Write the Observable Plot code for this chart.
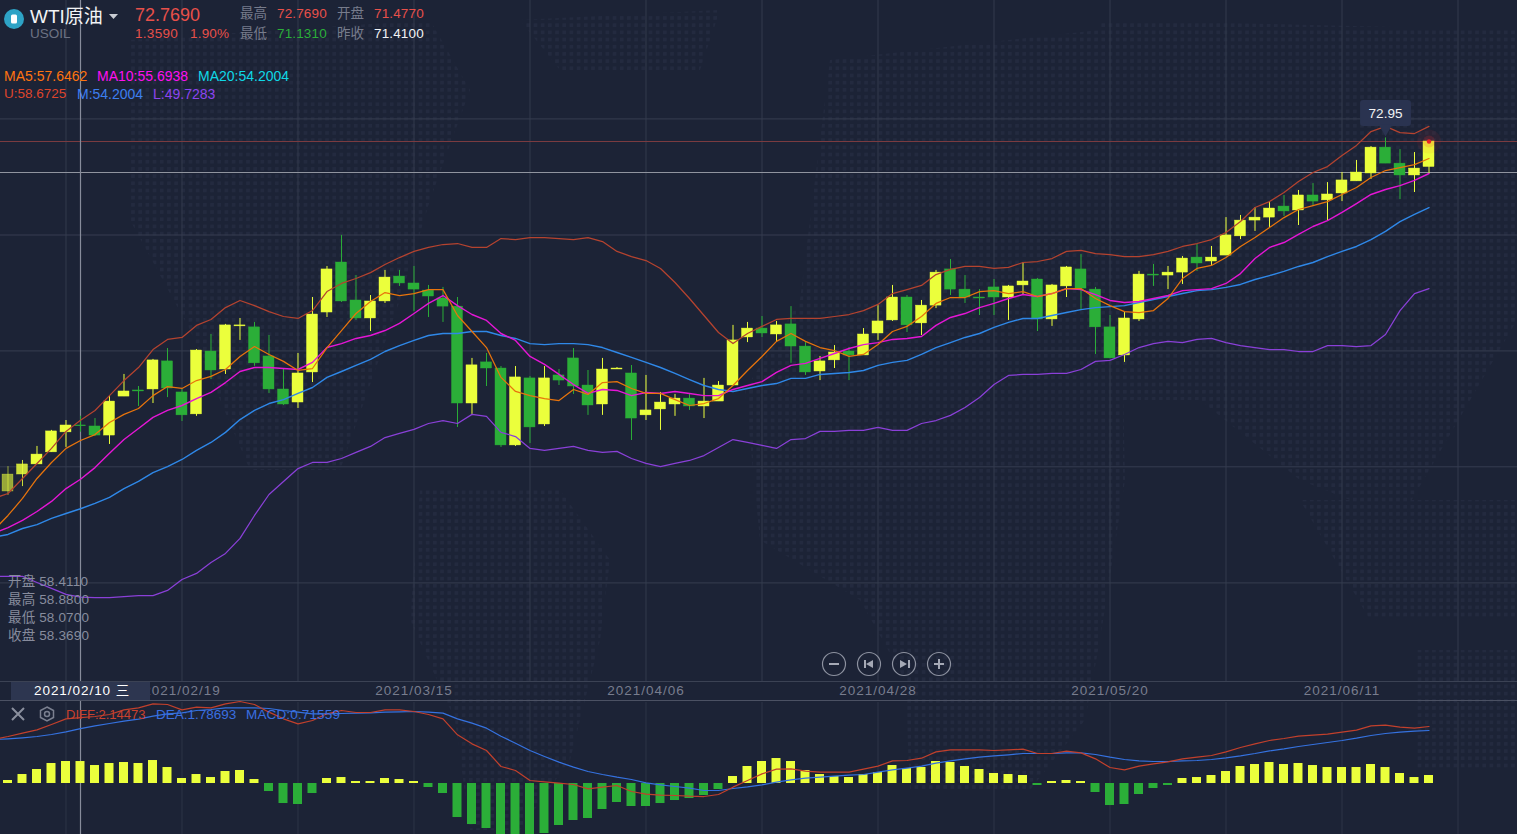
<!DOCTYPE html>
<html><head><meta charset="utf-8">
<script src="https://cdn.jsdelivr.net/npm/d3@7"></script>
<script src="https://cdn.jsdelivr.net/npm/@observablehq/plot@0.6"></script>
<style>
html,body{margin:0;padding:0;background:#1c2336;overflow:hidden;width:1517px;height:834px}
body{font-family:"Liberation Sans","Noto Sans CJK SC",sans-serif;position:relative}
#dots{position:absolute;left:0;top:0;width:1517px;height:834px;
 background-image:radial-gradient(circle at center,#232a3f 1.9px,rgba(0,0,0,0) 2.3px);background-size:7.2px 7.2px;
 clip-path:path("M130 40L430 20L470 90L430 200L400 300L340 470L250 470L190 330L130 220ZM520 20L720 10L700 70L560 70ZM420 490L560 490L610 560L600 640L570 760L520 830L470 830L455 720L410 620ZM830 60L1100 30L1120 250L1125 480L1100 640L1085 720L1030 790L910 790L905 680L860 600L760 540L745 390L800 300ZM1100 20L1517 30L1517 320L1400 520L1300 480L1200 400L1120 400ZM1417 650L1517 650L1517 770L1417 770ZM1300 500L1517 500L1517 620L1370 620Z")}
#main,#macd{position:absolute;left:0}
#main{top:0}#macd{top:700px}
.t{position:absolute;white-space:nowrap;font-size:13.5px;line-height:16px}
.s{letter-spacing:.15px}
.hl{position:absolute;left:0;width:1517px;height:1px;background:#3b4254}
</style></head><body>
<div id="dots"></div>
<div id="main"></div>
<div id="macd"></div>
<div class="hl" style="top:681px"></div>
<div class="hl" style="top:700px;background:#4b5163"></div>
<div style="position:absolute;left:11px;top:682px;width:139px;height:18px;background:#2d3650"></div>
<div class="t" style="left:34px;top:683px;color:#fff;letter-spacing:.95px">2021/02/10 三</div>

<svg style="position:absolute;left:3px;top:8px" width="22" height="22"><circle cx="11" cy="11" r="10" fill="#2ea3c6"/><rect x="8" y="6.5" width="6" height="9" rx="1.5" fill="#fff"/></svg>
<div class="t" style="left:30px;top:5px;font-size:19px;line-height:24px;color:#f2f3f5">WTI原油</div>
<svg style="position:absolute;left:109px;top:14px" width="10" height="6"><path d="M0 0H9L4.500 5Z" fill="#c9ccd3"/></svg>
<div class="t" style="left:30px;top:26px;color:#6d7283">USOIL</div>
<div class="t" style="left:135px;top:5px;font-size:18px;line-height:20px;color:#e8504a">72.7690</div>
<div class="t" style="left:135px;top:26px;color:#e8504a;letter-spacing:.3px">1.3590</div>
<div class="t" style="left:190px;top:26px;color:#e8504a;letter-spacing:.2px">1.90%</div>
<div class="t" style="left:240px;top:6px;color:#777c8c">最高</div>
<div class="t s" style="left:277px;top:6px;color:#e8504a">72.7690</div>
<div class="t" style="left:337px;top:6px;color:#777c8c">开盘</div>
<div class="t s" style="left:374px;top:6px;color:#e8504a">71.4770</div>
<div class="t" style="left:240px;top:26px;color:#777c8c">最低</div>
<div class="t s" style="left:277px;top:26px;color:#2bae3a">71.1310</div>
<div class="t" style="left:337px;top:26px;color:#777c8c">昨收</div>
<div class="t s" style="left:374px;top:26px;color:#f2f3f5">71.4100</div>
<div class="t" style="left:4px;top:68px;font-size:14px;color:#ff7410">MA5:57.6462</div>
<div class="t" style="left:97px;top:68px;font-size:14px;color:#ff10f0">MA10:55.6938</div>
<div class="t" style="left:198px;top:68px;font-size:14px;color:#0fd8e6">MA20:54.2004</div>
<div class="t" style="left:4px;top:86px;color:#df452c">U:58.6725</div>
<div class="t" style="left:77px;top:86px;font-size:14px;color:#3d7ff0">M:54.2004</div>
<div class="t" style="left:153px;top:86px;font-size:14px;color:#8d45f0">L:49.7283</div>
<div class="t s" style="left:8px;top:574px;color:#878c9d">开盘 58.4110</div>
<div class="t s" style="left:8px;top:592px;color:#878c9d">最高 58.8800</div>
<div class="t s" style="left:8px;top:610px;color:#878c9d">最低 58.0700</div>
<div class="t s" style="left:8px;top:628px;color:#878c9d">收盘 58.3690</div>
<div class="t" style="left:66px;top:707px;font-size:13px;color:#c8412e">DIFF:2.14473</div>
<div class="t" style="left:156px;top:707px;color:#3a6fe0">DEA:1.78693</div>
<div class="t s" style="left:246px;top:707px;color:#3a6fe0">MACD:0.71559</div>
<svg style="position:absolute;left:0;top:650px" width="1000" height="80" fill="none" stroke="#8d92a0">
 <g stroke-width="1.2">
 <circle cx="834" cy="14" r="11.500"/><circle cx="869" cy="14" r="11.500"/><circle cx="904" cy="14" r="11.500"/><circle cx="939" cy="14" r="11.500"/></g>
 <path d="M829 14H839M934 14H944M939 9V19" stroke-width="2" stroke="#a5a9b5"/>
 <path d="M865 10V18M909 10V18" stroke-width="2" stroke="#a5a9b5"/>
 <path d="M873 10V18L866 14ZM900 10V18L907 14Z" fill="#a5a9b5" stroke="none"/>
 <path d="M12 58L24 70M24 58L12 70" stroke-width="2" stroke="#8a8f9d"/>
 <path d="M47 57L53.500 60.500V67.500L47 71L40.500 67.500V60.500Z" stroke-width="1.500" stroke="#7b8090"/><circle cx="47" cy="64" r="2.500" stroke-width="1.500" stroke="#7b8090"/>
</svg>

<script>
// Price candles (index 0 = first visible session)
const opens=[55.07,55.93,56.44,57.05,58.06,58.411,58.36,57.90,59.87,60.18,60.23,61.65,60.08,58.97,62.15,61.24,63.42,63.37,61.90,60.23,59.57,61.09,64.12,66.65,64.73,63.82,64.68,65.94,65.59,65.23,64.83,64.42,59.52,61.60,61.29,57.40,60.79,58.46,60.94,61.80,60.43,59.47,61.24,61.04,58.92,59.22,59.47,59.77,59.37,59.62,60.43,62.86,63.31,63.01,63.52,62.40,61.14,61.70,62.15,61.95,63.06,63.72,64.88,63.57,64.47,66.30,65.28,64.88,65.39,64.88,65.49,65.79,63.77,65.44,66.30,65.28,63.37,61.95,63.77,66.04,65.99,66.14,66.90,66.70,67.00,67.97,68.77,68.92,69.48,69.28,70.04,69.79,70.14,70.75,71.15,72.46,71.65,71.05,71.477];
const closes=[55.93,56.44,56.94,58.11,58.41,58.369,57.90,59.62,60.13,60.13,61.70,60.28,58.92,62.20,61.19,63.47,63.47,61.55,60.23,59.47,61.04,64.02,66.30,64.68,63.82,64.68,65.89,65.59,65.28,64.93,64.42,59.52,61.45,61.29,57.40,60.84,58.31,60.79,60.68,60.38,59.42,61.24,61.29,58.76,59.17,59.57,59.77,59.37,59.62,60.43,62.71,63.31,63.06,63.47,62.40,61.09,61.65,62.10,61.95,63.01,63.67,64.88,63.47,64.47,66.14,65.28,64.88,64.83,64.88,65.44,65.69,63.77,65.49,66.40,65.33,63.37,61.80,63.82,66.04,65.99,66.14,66.85,66.60,66.90,68.02,68.77,68.92,69.38,69.23,70.04,69.73,70.09,70.80,71.20,72.46,71.65,71.05,71.40,72.769];
const highs=[56.33,56.64,57.35,58.16,58.66,58.88,58.76,59.87,60.99,60.38,61.75,62.30,60.23,62.25,63.01,63.52,63.82,63.62,62.96,61.24,62.05,64.88,66.45,68.02,65.99,64.98,66.25,66.25,66.45,65.49,65.39,64.88,61.80,62.05,61.39,61.39,60.89,61.39,61.24,62.30,61.19,61.80,61.34,61.44,60.94,60.08,59.98,59.98,60.79,60.63,63.47,63.62,63.92,63.67,64.42,62.60,61.90,62.45,62.35,63.31,64.47,65.49,64.98,64.73,66.25,66.80,65.99,65.28,65.79,65.49,66.65,65.84,65.54,66.45,67.05,65.39,63.97,64.12,66.20,66.55,66.45,66.95,67.56,67.46,68.92,69.03,69.43,69.73,70.04,70.29,70.64,70.69,71.20,71.81,72.51,72.95,72.36,72.21,72.769];
const lows=[54.87,55.32,56.44,57.05,57.30,58.07,57.85,57.45,59.87,59.37,59.52,59.82,58.61,58.87,60.73,60.99,62.71,61.40,60.03,59.42,59.27,60.58,63.87,64.63,63.72,63.16,64.58,65.44,64.17,63.87,63.62,58.31,58.97,60.38,57.30,57.35,57.50,58.36,60.43,59.98,58.92,58.92,61.24,57.65,58.66,58.16,58.87,59.17,58.76,59.62,60.43,62.60,62.86,62.66,61.55,60.94,60.68,61.29,60.68,61.95,62.71,63.67,63.11,62.96,64.32,64.98,64.58,63.97,63.97,63.72,65.03,63.16,63.42,64.88,64.22,62.00,61.80,61.60,63.67,65.44,65.28,65.54,66.20,66.45,67.00,67.81,68.22,68.42,68.98,68.52,69.53,68.77,69.73,70.75,70.85,71.65,69.83,70.19,71.131];

// Indicator lines; each starts one session before the first visible candle
const ma5=[53.10,53.86,54.72,55.73,56.54,57.25,57.65,57.95,58.56,58.97,59.27,59.92,60.38,60.28,60.68,60.89,61.24,61.90,62.40,62.00,61.65,61.19,61.29,62.35,63.21,64.07,64.68,65.13,64.98,65.08,65.28,65.28,63.97,63.16,62.35,60.84,60.13,59.92,59.77,59.67,60.23,59.98,60.58,60.63,60.28,60.03,60.03,59.72,59.42,59.52,59.77,60.43,61.19,61.90,62.66,63.06,62.66,62.35,62.20,61.90,62.00,62.50,63.16,63.42,63.92,64.58,64.88,64.88,65.18,65.23,65.08,65.18,64.93,65.08,65.33,65.33,64.83,64.47,64.17,64.12,64.22,64.83,65.84,66.35,66.50,66.90,67.46,67.91,68.42,68.92,69.33,69.53,69.73,70.09,70.44,70.95,71.30,71.45,71.60,71.91];
const ma10=[52.95,53.25,53.61,54.06,54.57,55.22,55.69,56.28,57.00,57.70,58.26,58.82,59.17,59.42,59.77,60.08,60.58,61.14,61.34,61.34,61.29,61.24,61.60,62.35,62.55,62.81,62.96,63.21,63.57,64.07,64.58,64.98,64.47,64.02,63.72,63.06,62.71,61.90,61.50,60.99,60.48,60.03,60.23,60.18,59.92,60.08,60.03,60.13,60.03,59.92,59.92,60.23,60.43,60.63,61.09,61.45,61.55,61.80,62.05,62.30,62.50,62.60,62.76,62.81,62.91,63.47,63.87,64.07,64.37,64.58,64.83,65.03,64.93,65.08,65.33,65.28,65.03,64.73,64.63,64.68,64.83,64.98,65.23,65.28,65.33,65.59,66.09,66.85,67.41,67.66,68.07,68.47,68.77,69.18,69.63,70.09,70.34,70.54,70.80,71.15];
const ma20=[52.75,52.90,53.20,53.40,53.71,53.96,54.20,54.47,54.77,55.22,55.58,56.03,56.33,56.69,57.15,57.55,58.06,58.71,59.17,59.52,59.72,60.03,60.33,60.84,61.14,61.45,61.75,62.15,62.45,62.71,62.96,63.06,63.06,63.16,63.16,62.96,62.81,62.55,62.50,62.55,62.55,62.50,62.35,62.10,61.85,61.60,61.34,61.04,60.73,60.43,60.23,60.13,60.28,60.43,60.53,60.79,60.79,60.99,61.04,61.09,61.19,61.45,61.60,61.70,62.00,62.35,62.60,62.86,63.06,63.37,63.62,63.82,63.82,63.97,64.12,64.27,64.37,64.42,64.47,64.63,64.78,64.93,65.08,65.23,65.28,65.39,65.54,65.79,65.99,66.20,66.45,66.65,66.95,67.21,67.46,67.81,68.22,68.72,69.08,69.43];
const upper=[54.72,54.97,55.73,56.49,57.25,58.11,58.67,59.17,59.92,60.68,61.34,62.25,62.76,62.86,63.47,63.77,64.37,64.73,64.47,64.17,63.92,63.82,64.22,65.18,65.59,65.84,66.14,66.55,66.90,67.21,67.41,67.56,67.61,67.41,67.41,67.86,67.81,67.91,67.91,67.86,67.81,67.91,67.71,67.21,66.95,66.75,66.35,65.64,64.83,63.97,63.11,62.55,63.06,63.42,63.77,63.82,63.82,63.82,63.92,64.02,64.22,64.53,65.08,65.28,65.49,66.04,66.30,66.45,66.45,66.35,66.40,66.65,66.70,66.85,67.21,67.26,67.10,67.05,66.95,66.95,67.05,67.21,67.46,67.61,67.81,68.17,68.72,69.43,69.73,70.19,70.75,71.20,71.50,72.06,72.57,73.27,73.53,73.22,73.17,73.53];
const lower=[50.78,50.78,50.78,50.47,50.17,49.87,49.73,49.71,49.71,49.76,49.81,49.81,50.07,50.62,50.93,51.48,51.94,52.70,53.86,54.92,55.58,56.23,56.54,56.54,56.74,57.05,57.35,57.80,58.01,58.21,58.51,58.66,58.51,58.97,58.87,58.06,57.85,57.25,57.15,57.25,57.35,57.15,57.05,57.10,56.74,56.49,56.33,56.49,56.64,56.89,57.30,57.70,57.55,57.40,57.25,57.70,57.75,58.11,58.11,58.16,58.16,58.31,58.16,58.16,58.51,58.66,58.92,59.32,59.82,60.48,60.94,60.99,60.99,61.04,61.04,61.24,61.65,61.70,62.00,62.35,62.55,62.66,62.60,62.76,62.81,62.60,62.45,62.35,62.25,62.25,62.15,62.15,62.45,62.45,62.40,62.45,63.01,64.22,65.08,65.33];

// MACD panel
const diff=[1.44,1.531,1.640,1.748,1.922,2.107,2.145,2.183,2.248,2.400,2.465,2.596,2.574,2.400,2.487,2.465,2.596,2.672,2.574,2.324,2.107,1.944,2.053,2.270,2.378,2.313,2.313,2.400,2.400,2.346,2.248,2.107,1.586,1.292,1.075,0.554,0.424,0.098,0.054,0.011,-0.033,-0.174,-0.119,-0.065,-0.261,-0.348,-0.380,-0.391,-0.413,-0.424,-0.358,-0.119,0.098,0.315,0.467,0.478,0.402,0.369,0.369,0.369,0.467,0.565,0.738,0.749,0.825,1.032,1.097,1.097,1.097,1.075,1.097,1.119,0.977,0.977,1.053,0.999,0.804,0.521,0.445,0.565,0.641,0.706,0.804,0.858,0.912,1.032,1.173,1.292,1.401,1.466,1.542,1.575,1.607,1.672,1.738,1.879,1.900,1.835,1.803,1.857];
const dea=[1.43,1.455,1.488,1.531,1.596,1.683,1.787,1.879,1.955,2.031,2.096,2.194,2.270,2.302,2.378,2.411,2.465,2.465,2.465,2.444,2.378,2.324,2.270,2.270,2.281,2.291,2.302,2.324,2.335,2.346,2.324,2.291,2.107,1.966,1.803,1.542,1.314,1.075,0.880,0.695,0.532,0.391,0.293,0.206,0.130,0.022,-0.043,-0.098,-0.152,-0.228,-0.228,-0.163,-0.109,-0.043,0.043,0.119,0.174,0.206,0.239,0.272,0.293,0.369,0.445,0.500,0.565,0.662,0.738,0.804,0.858,0.901,0.934,0.977,0.977,0.977,0.999,0.999,0.945,0.858,0.782,0.738,0.717,0.717,0.738,0.749,0.782,0.836,0.901,0.977,1.064,1.129,1.205,1.271,1.336,1.401,1.477,1.564,1.629,1.672,1.705,1.727];
const hist=[0.098,0.293,0.456,0.652,0.717,0.716,0.586,0.652,0.684,0.652,0.749,0.521,0.163,0.293,0.195,0.391,0.424,0.130,-0.261,-0.652,-0.684,-0.326,0.163,0.195,0.065,0.065,0.163,0.130,0.065,-0.130,-0.326,-1.108,-1.336,-1.466,-1.85,-1.75,-1.72,-1.629,-1.368,-1.205,-1.140,-0.847,-0.619,-0.749,-0.749,-0.652,-0.554,-0.489,-0.391,-0.195,0.228,0.554,0.717,0.814,0.717,0.424,0.293,0.228,0.195,0.293,0.358,0.586,0.489,0.521,0.717,0.684,0.554,0.456,0.326,0.293,0.261,-0.065,0.065,0.098,0.065,-0.293,-0.717,-0.684,-0.358,-0.163,-0.065,0.163,0.195,0.261,0.391,0.554,0.619,0.684,0.619,0.652,0.586,0.521,0.521,0.521,0.619,0.521,0.326,0.195,0.261];

// Axes
const gridIdx=[4,12,20,28,36,44,52,60,68,76,84,92,100];
const dateTicks=[12,28,44,60,76,92];
const dateLabels=["2021/02/19","2021/03/15","2021/04/06","2021/04/28","2021/05/20","2021/06/11"];
const priceGrid=[73.91,68.04,62.18,56.32,50.45];

const UP="#ebff3c",DOWN="#2bae38";
const candles=opens.map((o,i)=>({i,open:o,close:closes[i],high:highs[i],low:lows[i]}));
const candleColor=d=>d.close>=d.open?UP:DOWN;
const fade=d=>d.i===0?.6:d.i===1?.85:1;
const series=a=>a.map((v,k)=>({i:k-1,v}));
const xDomain=[-0.5172,104.1034];
const line=(a,color,w=1.25)=>Plot.line(series(a),{x:"i",y:"v",stroke:color,strokeWidth:w,clip:true});

const main=Plot.plot({
  width:1517,height:700,marginTop:0,marginRight:0,marginLeft:0,marginBottom:19,
  style:{background:"transparent",fontFamily:'"Liberation Sans","Noto Sans CJK SC",sans-serif'},
  x:{domain:xDomain,range:[0,1517],axis:null},
  y:{domain:[79.897,45.465],range:[0,681],axis:null},
  color:{type:"identity"},
  marks:[
    Plot.ruleX(gridIdx,{stroke:"#333a4d"}),
    Plot.ruleY(priceGrid,{stroke:"#363d50"}),
    Plot.axisX(dateTicks,{anchor:"bottom",tickSize:0,tickPadding:4,fontSize:13.5,color:"#787d8e",label:null,tickFormat:d=>dateLabels[dateTicks.indexOf(d)]}),
    Plot.ruleY([72.769],{stroke:"#7a3b40",strokeWidth:1.2}),
    Plot.ruleY([71.20],{stroke:"#90949f",strokeWidth:1.2}),
    Plot.ruleX([5],{stroke:"#878c9b",strokeWidth:1.2}),
    Plot.ruleX(candles,{x:"i",y1:"low",y2:"high",stroke:candleColor,strokeOpacity:fade,strokeWidth:1}),
    Plot.rect(candles,{x1:d=>d.i-.38,x2:d=>d.i+.38,y1:"open",y2:"close",fill:candleColor,stroke:candleColor,strokeWidth:.4,fillOpacity:fade,strokeOpacity:fade}),
    line(upper,"#b5432f"),line(lower,"#8a40d8"),
    line(ma20,"#2f88e8",1.4),line(ma10,"#e516d6",1.4),line(ma5,"#e8740c"),
    Plot.dot([{i:98,p:72.769}],{x:"i",y:"p",r:12,fill:"#ff3030",fillOpacity:.07,stroke:"none"}),
    Plot.dot([{i:98,p:72.769}],{x:"i",y:"p",r:6,fill:"#ff3030",fillOpacity:.16,stroke:"none"}),
    Plot.dot([{i:98,p:72.769}],{x:"i",y:"p",r:2.2,fill:"#e8222a",stroke:"none"}),
    // high-price callout above the session's high
    Plot.rect([{x1:93.28,x2:96.79,y1:74.84,y2:73.53}],{x1:"x1",x2:"x2",y1:"y1",y2:"y2",fill:"#2a3350",rx:3}),
    Plot.dot([{i:95,p:73.42}],{x:"i",y:"p",symbol:"triangle",rotate:180,r:5,fill:"#2a3350",stroke:"none"}),
    Plot.text([{i:95,p:74.19,label:"72.95"}],{x:"i",y:"p",text:"label",fill:"#f2f3f5",fontSize:13.5})
  ]
});
d3.select(main).selectAll('[aria-label="x-axis tick label"] text').style("letter-spacing","1px");
document.getElementById("main").append(main);

const bars=hist.map((v,i)=>({i,v}));
const macd=Plot.plot({
  width:1517,height:134,margin:0,
  style:{background:"transparent"},
  x:{domain:xDomain,range:[0,1517],axis:null},
  y:{domain:[2.704,-1.661],range:[0,134],axis:null},
  color:{type:"identity"},
  marks:[
    Plot.ruleX(gridIdx,{stroke:"#2d3447",y1:2.64,y2:-1.661}),
    Plot.ruleX([5],{stroke:"#878c9b",strokeWidth:1.2,y1:2.704,y2:-1.661}),
    Plot.rect(bars,{x1:d=>d.i-.31,x2:d=>d.i+.31,y1:0,y2:"v",fill:d=>d.v>=0?UP:DOWN,clip:true}),
    line(dea,"#3572e0",1.2),line(diff,"#c2402c",1.2)
  ]
});
document.getElementById("macd").append(macd);
</script>
</body></html>
